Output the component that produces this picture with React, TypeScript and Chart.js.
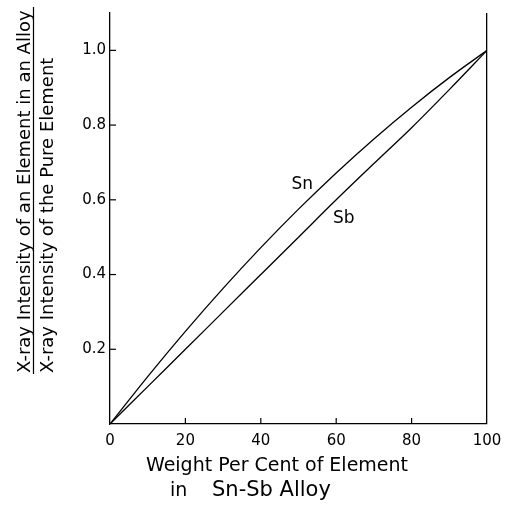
import React, { useEffect, useRef } from "react";
import { Chart, registerables } from "chart.js";

Chart.register(...registerables);

const xValues = [0, 10, 20, 30, 40, 50, 60, 70, 80, 90, 100];
const snValues = [0, 0.127, 0.248, 0.363, 0.472, 0.575, 0.672, 0.763, 0.848, 0.927, 1.0];
const sbValues = [0, 0.1, 0.2, 0.3, 0.4, 0.5, 0.6, 0.697, 0.793, 0.895, 1.0];
const xTicks = [0, 20, 40, 60, 80, 100];
const yTicks = [0.2, 0.4, 0.6, 0.8, 1.0];
const curveNames = ["Sn", "Sb"];
const curveLabelX = [51, 62];
const curveLabelY = [0.64, 0.55];
const yTitleTop = "X-ray Intensity of an Element in an Alloy";
const yTitleBottom = "X-ray Intensity of the Pure Element";
const xTitle1 = "Weight Per Cent of Element";
const xTitle2a = "in";
const xTitle2b = "Sn-Sb Alloy";

const FONT = "DejaVu Sans";

const decorPlugin = {
  id: "decor",
  afterDraw(chart: any) {
    const { ctx, chartArea, scales } = chart;
    const xs = scales.x;
    const ys = scales.y;
    ctx.save();
    ctx.strokeStyle = "#000";
    ctx.fillStyle = "#000";
    ctx.lineWidth = 1.2;
    // inner ticks
    yTicks.forEach((v) => {
      const py = ys.getPixelForValue(v);
      ctx.beginPath();
      ctx.moveTo(chartArea.left, py);
      ctx.lineTo(chartArea.left + 6, py);
      ctx.stroke();
    });
    xTicks.forEach((v) => {
      if (v === 0 || v === 100) return;
      const px = xs.getPixelForValue(v);
      ctx.beginPath();
      ctx.moveTo(px, chartArea.bottom);
      ctx.lineTo(px, chartArea.bottom - 6);
      ctx.stroke();
    });
    // curve labels
    ctx.font = `17px '${FONT}'`;
    ctx.textAlign = "center";
    ctx.textBaseline = "middle";
    curveNames.forEach((n, i) => {
      ctx.fillText(n, xs.getPixelForValue(curveLabelX[i]), ys.getPixelForValue(curveLabelY[i]));
    });
    // y title (fraction)
    ctx.save();
    ctx.font = `18px '${FONT}'`;
    ctx.textAlign = "left";
    ctx.textBaseline = "alphabetic";
    ctx.translate(30, 373);
    ctx.rotate(-Math.PI / 2);
    ctx.fillText(yTitleTop, 0, 0);
    ctx.restore();
    ctx.beginPath();
    ctx.moveTo(33.5, 7);
    ctx.lineTo(33.5, 374);
    ctx.stroke();
    ctx.save();
    ctx.font = `18px '${FONT}'`;
    ctx.textAlign = "left";
    ctx.textBaseline = "alphabetic";
    ctx.translate(53, 373);
    ctx.rotate(-Math.PI / 2);
    ctx.fillText(yTitleBottom, 0, 0);
    ctx.restore();
    // x title
    ctx.font = `19px '${FONT}'`;
    ctx.textAlign = "center";
    ctx.textBaseline = "alphabetic";
    ctx.fillText(xTitle1, 277, 471);
    ctx.textAlign = "left";
    ctx.font = `19px '${FONT}'`;
    ctx.fillText(xTitle2a, 170, 496);
    ctx.font = `21px '${FONT}'`;
    ctx.fillText(xTitle2b, 212, 496);
    ctx.restore();
  },
};

export default function App() {
  const ref = useRef<HTMLCanvasElement>(null);
  useEffect(() => {
    document.body.style.margin = "0";
    const canvas = ref.current!;
    const chart = new Chart(canvas, {
      type: "line",
      data: {
        datasets: [
          {
            label: "Sn",
            data: xValues.map((x, i) => ({ x, y: snValues[i] })),
            borderColor: "#000",
            borderWidth: 1.3,
            pointRadius: 0,
            cubicInterpolationMode: "monotone",
          },
          {
            label: "Sb",
            data: xValues.map((x, i) => ({ x, y: sbValues[i] })),
            borderColor: "#000",
            borderWidth: 1.3,
            pointRadius: 0,
            cubicInterpolationMode: "monotone",
          },
        ],
      },
      options: {
        animation: false,
        responsive: false,
        maintainAspectRatio: false,
        layout: { padding: { top: 6, right: 29, left: 0, bottom: 0 } },
        plugins: { legend: { display: false }, tooltip: { enabled: false } },
        scales: {
          x: {
            type: "linear",
            min: 0,
            max: 100,
            afterFit: (s: any) => {
              s.height = 81;
            },
            afterBuildTicks: (s: any) => {
              s.ticks = xTicks.map((v) => ({ value: v }));
            },
            ticks: {
              color: "#000",
              font: { family: FONT, size: 15 },
              padding: 8,
              maxRotation: 0,
              autoSkip: false,
            },
            grid: {
              drawTicks: false,
              color: (c: any) => (c.tick && c.tick.value === 100 ? "#000" : "rgba(0,0,0,0)"),
              lineWidth: 1.3,
            },
            border: { display: true, color: "#000", width: 1.3 },
          },
          y: {
            type: "linear",
            min: 0,
            max: 1.1,
            afterFit: (s: any) => {
              s.width = 110;
            },
            afterBuildTicks: (s: any) => {
              s.ticks = yTicks.map((v) => ({ value: v }));
            },
            ticks: {
              color: "#000",
              font: { family: FONT, size: 15 },
              padding: 4,
              callback: (v: any) => Number(v).toFixed(1),
            },
            grid: { display: false, drawTicks: false },
            border: { display: true, color: "#000", width: 1.3 },
          },
        },
      },
      plugins: [decorPlugin],
    });
    return () => chart.destroy();
  }, []);
  return (
    <div style={{ width: 516, height: 505 }}>
      <canvas ref={ref} width={516} height={505} style={{ display: "block" }} />
    </div>
  );
}
